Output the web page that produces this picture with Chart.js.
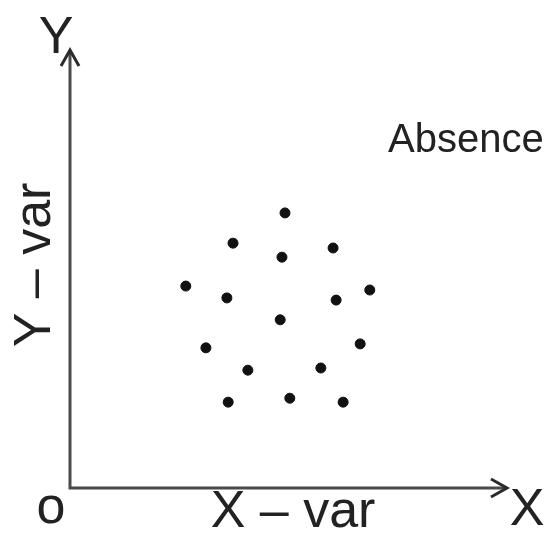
<!DOCTYPE html>
<html>
<head>
<meta charset="utf-8">
<title>Absence</title>
<script src="https://cdn.jsdelivr.net/npm/chart.js@4.4.1/dist/chart.umd.min.js"></script>
<style>
  html, body { margin: 0; padding: 0; background: #fff; }
  #wrap { position: relative; width: 547px; height: 535px; }
</style>
</head>
<body>
<div id="wrap"><canvas id="chart"></canvas></div>
<script>
  // ----- Data -----
  const xValues = [4.92, 3.73, 4.85, 6.02, 2.65, 3.59, 6.09, 6.86, 4.81, 3.11, 6.64, 4.07, 5.74, 3.62, 5.03, 6.25];
  const yValues = [6.28, 5.59, 5.27, 5.48, 4.61, 4.34, 4.29, 4.52, 3.84, 3.20, 3.29, 2.69, 2.74, 1.96, 2.05, 1.96];
  const xTitle = "X \u2013 var";
  const yTitle = "Y \u2013 var";
  const caption = "Absence";

  const INK = "#222";
  const AXIS = "#4a4a4a";
  const FONT = "Liberation Sans, Arial, sans-serif";

  // Draws the arrowed axes and the labels around the plot area
  const axesPlugin = {
    id: "arrowAxes",
    afterDraw(chart) {
      const { ctx, chartArea: a } = chart;
      ctx.save();
      ctx.strokeStyle = AXIS;
      ctx.lineWidth = 3;
      ctx.beginPath();
      ctx.moveTo(a.left, a.top + 2);
      ctx.lineTo(a.left, a.bottom);
      ctx.lineTo(a.right - 2, a.bottom);
      ctx.stroke();

      // arrow heads
      ctx.strokeStyle = "#2a2a2a";
      ctx.beginPath();
      ctx.moveTo(a.left - 9, a.top + 16);
      ctx.lineTo(a.left, a.top);
      ctx.lineTo(a.left + 9, a.top + 16);
      ctx.moveTo(a.right - 16, a.bottom - 9);
      ctx.lineTo(a.right, a.bottom);
      ctx.lineTo(a.right - 16, a.bottom + 9);
      ctx.stroke();

      ctx.fillStyle = INK;
      ctx.textBaseline = "alphabetic";
      ctx.textAlign = "center";
      ctx.font = "52px " + FONT;
      ctx.fillText("Y", a.left - 14, a.top + 3);
      ctx.fillText("X", a.right + 20, a.bottom + 37);
      ctx.fillText("o", a.left - 19, a.bottom + 35);
      ctx.fillText(xTitle, 293, a.bottom + 39);

      ctx.save();
      ctx.translate(a.left - 20, (a.top + a.bottom) / 2 - 4);
      ctx.rotate(-Math.PI / 2);
      ctx.fillText(yTitle, 0, 0);
      ctx.restore();

      ctx.font = "40px " + FONT;
      ctx.textAlign = "left";
      ctx.fillText(caption, a.left + 318, a.top + 102);
      ctx.restore();
    },
  };

  const points = xValues.map((x, i) => ({ x, y: yValues[i] }));

  new Chart(document.getElementById("chart"), {
    type: "scatter",
    data: {
      datasets: [{
        data: points,
        backgroundColor: "#111",
        borderColor: "#111",
        pointRadius: 5,
        pointHoverRadius: 5,
      }],
    },
    options: {
      responsive: true,
      maintainAspectRatio: false,
      animation: false,
      layout: { padding: { left: 70, right: 40, top: 50, bottom: 47 } },
      plugins: { legend: { display: false }, tooltip: { enabled: false } },
      scales: {
        x: { type: "linear", min: 0, max: 10, display: false },
        y: { type: "linear", min: 0, max: 10, display: false },
      },
    },
    plugins: [axesPlugin],
  });
</script>
</body>
</html>
